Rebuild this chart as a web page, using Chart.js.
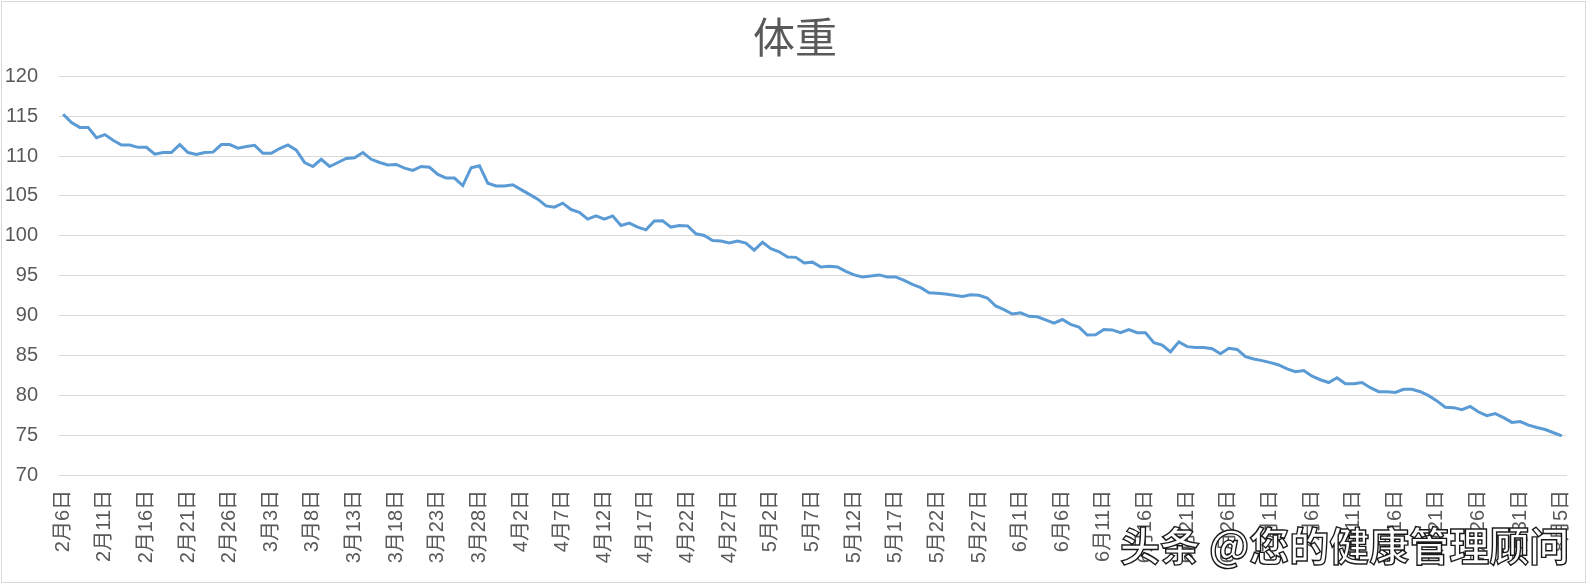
<!DOCTYPE html>
<html>
<head>
<meta charset="utf-8">
<script src="https://cdn.jsdelivr.net/npm/chart.js@4.4.1/dist/chart.umd.min.js"></script>
<style>
  html, body { margin: 0; padding: 0; background: #fff; }
  #wrap { position: relative; width: 1592px; height: 583px; overflow: hidden; }
  #frame { position: absolute; left: 1px; top: 1px; width: 1583px; height: 580px; border: 1px solid #d9d9d9; pointer-events: none; }
  #mark {
    position: absolute; left: 1120px; top: 515px;
    font: 700 40px "Noto Sans CJK SC", sans-serif;
    color: #fff; -webkit-text-stroke: 1.4px #1a1a1a;
    letter-spacing: 0px; white-space: nowrap;
  }
</style>
</head>
<body>
<div id="wrap">
  <canvas id="weightChart" width="1592" height="583"></canvas>
  <div id="frame"></div>
  <div id="mark">头条 @您的健康管理顾问</div>
</div>
<script>
// 体重 — daily weigh-ins, 2月6日 .. 8月5日
const feb = [115.25, 114.2, 113.6, 113.6, 112.3, 112.7, 112.0, 111.4, 111.4, 111.1,
  111.1, 110.25, 110.45, 110.45, 111.45, 110.45, 110.2, 110.45, 110.5, 111.45,
  111.45, 111.0, 111.2];
const mar = [111.35, 110.35, 110.35, 110.95, 111.4, 110.75, 109.2, 108.7, 109.6, 108.7,
  109.2, 109.7, 109.8, 110.45, 109.6, 109.2, 108.9, 108.95, 108.5, 108.2,
  108.7, 108.6, 107.7, 107.25, 107.25, 106.3, 108.55, 108.8, 106.6, 106.25,
  106.25];
const apr = [106.4, 105.8, 105.2, 104.6, 103.75, 103.6, 104.1, 103.3, 102.95, 102.1,
  102.5, 102.1, 102.5, 101.3, 101.6, 101.1, 100.75, 101.85, 101.9, 101.1,
  101.3, 101.25, 100.25, 100.05, 99.4, 99.35, 99.1, 99.35, 99.1, 98.2];
const may = [99.2, 98.4, 98.0, 97.35, 97.3, 96.6, 96.7, 96.1, 96.2, 96.1,
  95.55, 95.1, 94.85, 94.95, 95.1, 94.85, 94.85, 94.4, 93.9, 93.5,
  92.85, 92.8, 92.7, 92.55, 92.4, 92.6, 92.55, 92.2, 91.2, 90.75,
  90.2];
const jun = [90.35, 89.9, 89.85, 89.45, 89.05, 89.5, 88.9, 88.55, 87.55, 87.6,
  88.25, 88.2, 87.85, 88.25, 87.85, 87.85, 86.6, 86.3, 85.45, 86.7,
  86.1, 86.0, 86.0, 85.85, 85.2, 85.9, 85.75, 84.85, 84.55, 84.35];
const jul = [84.1, 83.8, 83.3, 82.95, 83.1, 82.4, 81.95, 81.6, 82.2, 81.45,
  81.45, 81.6, 80.95, 80.45, 80.45, 80.35, 80.75, 80.75, 80.45, 79.95,
  79.3, 78.5, 78.45, 78.2, 78.6, 77.9, 77.45, 77.7, 77.2, 76.6,
  76.7];
const aug = [76.25, 75.95, 75.7, 75.3, 74.9];

// every 5th day gets a label on the axis
const tickLabels = ['2月6日', '2月11日', '2月16日', '2月21日', '2月26日',
  '3月3日', '3月8日', '3月13日', '3月18日', '3月23日', '3月28日',
  '4月2日', '4月7日', '4月12日', '4月17日', '4月22日', '4月27日',
  '5月2日', '5月7日', '5月12日', '5月17日', '5月22日', '5月27日',
  '6月1日', '6月6日', '6月11日', '6月16日', '6月21日', '6月26日',
  '7月1日', '7月6日', '7月11日', '7月16日', '7月21日', '7月26日', '7月31日',
  '8月5日'];
const yTicks = [70, 75, 80, 85, 90, 95, 100, 105, 110, 115, 120];

const weight = [...feb, ...mar, ...apr, ...may, ...jun, ...jul, ...aug];
const labels = weight.map((_, i) => (i % 5 === 0 ? tickLabels[i / 5] : ''));

const FONT = '"Liberation Sans", "Noto Sans CJK SC", sans-serif';
const GREY = '#595959';

const ctx = document.getElementById('weightChart').getContext('2d');
new Chart(ctx, {
  type: 'line',
  data: {
    labels,
    datasets: [{
      label: '体重',
      data: weight,
      borderColor: '#5b9bd5',
      borderWidth: 3,
      pointRadius: 0,
      tension: 0,
      fill: false
    }]
  },
  options: {
    responsive: false,
    animation: false,
    layout: { padding: { left: 3, right: 5, top: 0, bottom: 0 } },
    plugins: {
      legend: { display: false },
      tooltip: { enabled: false },
      title: {
        display: true,
        text: '体重',
        color: GREY,
        font: { family: '"Noto Sans CJK SC", sans-serif', size: 42, weight: 'normal' },
        padding: { top: 12, bottom: 14 }
      }
    },
    scales: {
      x: {
        offset: true,
        afterFit: axis => {
          axis.height = 108;
          axis.paddingLeft = 0;
          axis.paddingRight = 26;
        },
        grid: { display: false, drawTicks: false },
        border: { display: true, color: '#d9d9d9' },
        ticks: {
          autoSkip: false,
          maxRotation: 90,
          minRotation: 90,
          padding: 15,
          color: GREY,
          font: { family: FONT, size: 20 }
        }
      },
      y: {
        min: yTicks[0],
        max: yTicks[yTicks.length - 1],
        afterBuildTicks: axis => { axis.ticks = yTicks.map(v => ({ value: v })); },
        afterFit: axis => { axis.width = 56; },
        grid: { color: '#d9d9d9', drawTicks: false },
        border: { display: false },
        ticks: {
          padding: 21,
          color: GREY,
          font: { family: FONT, size: 20 }
        }
      }
    }
  }
});
</script>
</body>
</html>
